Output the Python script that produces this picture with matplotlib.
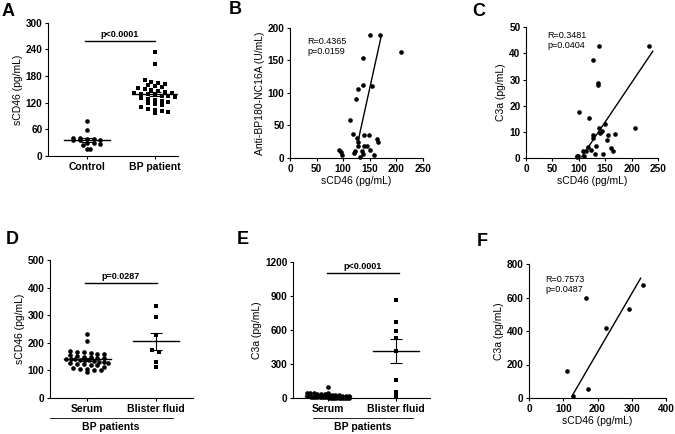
import numpy as np
import matplotlib
matplotlib.use("Agg")
import matplotlib.pyplot as plt

plt.rcParams['font.family'] = ['Liberation Sans', 'DejaVu Sans']
plt.rcParams['font.weight'] = 'bold'

# ---- data ----
ctrl_scd46 = [79, 59, 41, 40, 39, 38, 37, 36, 36, 30, 29, 27, 25, 16, 15]
bp_scd46 = [233, 208, 172, 166, 165, 163, 160, 158, 156, 152, 150, 148, 146, 144,
            142, 141, 140, 139, 138, 136, 134, 132, 130, 128, 126, 124, 122, 120,
            118, 114, 110, 106, 104, 102, 100, 96]
blister_scd46 = [333, 292, 227, 174, 168, 129, 113]

serum_c3a = [100, 45, 42, 40, 40, 38, 36, 35, 33, 30, 28, 25, 22, 20, 18, 15, 14,
             12, 12, 10, 10, 8, 8, 6, 5, 5, 4, 3, 3, 2, 2, 1, 1, 1, 0, 0]
blister_c3a = [865, 671, 594, 527, 418, 159, 56, 18]

b_x = [150, 170, 208, 137, 138, 128, 155, 124, 112, 118, 140, 148, 164, 165, 125,
       128, 127, 140, 144, 93, 95, 97, 122, 135, 150, 137, 132, 158, 120]
b_y = [189, 189, 162, 153, 112, 106, 110, 90, 59, 37, 36, 35, 29, 25, 30,
       24, 19, 18, 18, 12, 9, 5, 10, 11, 13, 6, 2, 4, 7]
b_fit = (3.7, -447.5)
b_fit_range = [128, 172]

c_x = [138, 233, 127.5, 135.7, 137, 101, 120, 206, 150, 138, 169, 155, 127.5, 144.5,
       153, 127.5, 117, 161, 164, 108.5, 124, 131, 146, 96, 99, 97.5, 110, 113, 132.5, 140]
c_y = [43, 42.7, 37.5, 28.6, 28, 17.5, 15.4, 11.3, 13.1, 11.3, 9.3, 8.8, 8.8, 10.4,
       6.8, 7.8, 4.3, 3.7, 2.7, 2.7, 3.2, 1.7, 1.5, 0.9, 0.9, 0.3, 0.9, 2.7, 4.5, 9.5]
c_fit = (0.30, -31.2)
c_fit_range = [105.5, 240]

f_x = [112, 166, 173, 129, 225, 292, 334]
f_y = [163, 597, 52, 14, 416, 530, 673]
f_fit = (3.51, -429)
f_fit_range = [127.5, 326]

W, H = 675, 434
fig = plt.figure(figsize=(W / 100, H / 100), dpi=100)


def px_axes(l, t, r, b):
    ax = fig.add_axes([l / W, 1 - b / H, (r - l) / W, (b - t) / H])
    for s in ('top', 'right'):
        ax.spines[s].set_visible(False)
    for s in ('left', 'bottom'):
        ax.spines[s].set_linewidth(0.8)
    ax.tick_params(length=2.5, width=0.8, labelsize=7.2, pad=1.5)
    return ax


def swarm(vals, center, ymax, marker, ax, row_frac=0.035, step=0.1, half=0.31):
    vals = np.sort(np.asarray(vals, float))[::-1]
    bins = np.round(vals / (ymax * row_frac)).astype(int)
    for b in np.unique(bins):
        v = vals[bins == b]
        k = len(v)
        st = step if k < 2 else min(step, 2 * half / (k - 1))
        xs = center + (np.arange(k) - (k - 1) / 2) * st
        ax.scatter(xs, v, s=11, marker=marker, color='black', lw=0, clip_on=False, zorder=3)
    m = vals.mean()
    se = vals.std(ddof=1) / np.sqrt(len(vals))
    ax.plot([center - 0.34, center + 0.34], [m, m], color='black', lw=1, zorder=4)
    ax.errorbar(center, m, yerr=se, color='black', lw=0.8, capsize=4, capthick=0.8, zorder=4)


def bracket(ax, x0, x1, y, text):
    ax.plot([x0, x1], [y, y], color='black', lw=1, clip_on=False)
    ax.text((x0 + x1) / 2, y * 1.02, text, ha='center', va='bottom', fontsize=6.5)


# ---- A ----
axA = px_axes(48, 22.7, 178, 156)
swarm(ctrl_scd46, 0, 300, 'o', axA)
swarm(bp_scd46, 1, 300, 's', axA)
axA.set_xlim(-0.57, 1.34)
axA.set_ylim(0, 300)
axA.set_yticks(range(0, 301, 60))
axA.set_xticks([0, 1])
axA.set_xticklabels(['Control', 'BP patient'], fontsize=7.5)
axA.set_ylabel('sCD46 (pg/mL)', fontsize=7.5, labelpad=2)
bracket(axA, -0.03, 1.0, 258, 'p<0.0001')

# ---- B ----
axB = px_axes(290, 27.7, 423, 158)
axB.scatter(b_x, b_y, s=11, color='black', lw=0, clip_on=False, zorder=3)
xx = np.array(b_fit_range)
axB.plot(xx, b_fit[0] * xx + b_fit[1], color='black', lw=1)
axB.set_xlim(0, 250)
axB.set_ylim(0, 200)
axB.set_xticks(range(0, 251, 50))
axB.set_yticks(range(0, 201, 50))
axB.set_xlabel('sCD46 (pg/mL)', fontsize=7.5, labelpad=2)
axB.set_ylabel('Anti-BP180-NC16A (U/mL)', fontsize=7.5, labelpad=2)
axB.text(0.13, 0.93, 'R=0.4365\np=0.0159', transform=axB.transAxes, fontsize=6.5,
         fontweight='normal', va='top', linespacing=1.15)

# ---- C ----
axC = px_axes(526, 27.3, 658, 158)
axC.scatter(c_x, c_y, s=11, color='black', lw=0, clip_on=False, zorder=3)
xx = np.array(c_fit_range)
axC.plot(xx, c_fit[0] * xx + c_fit[1], color='black', lw=1)
axC.set_xlim(0, 250)
axC.set_ylim(0, 50)
axC.set_xticks(range(0, 251, 50))
axC.set_yticks(range(0, 51, 10))
axC.set_xlabel('sCD46 (pg/mL)', fontsize=7.5, labelpad=2)
axC.set_ylabel('C3a (pg/mL)', fontsize=7.5, labelpad=2)
axC.text(0.16, 0.97, 'R=0.3481\np=0.0404', transform=axC.transAxes, fontsize=6.5,
         fontweight='normal', va='top', linespacing=1.15)

# ---- D ----
axD = px_axes(50, 260, 193, 398)
swarm(bp_scd46, 0, 500, 'o', axD, row_frac=0.03, step=0.1)
swarm(blister_scd46, 1, 500, 's', axD)
axD.set_xlim(-0.54, 1.54)
axD.set_ylim(0, 500)
axD.set_yticks(range(0, 501, 100))
axD.set_xticks([0, 1])
axD.set_xticklabels(['Serum', 'Blister fluid'], fontsize=7.5)
axD.set_ylabel('sCD46 (pg/mL)', fontsize=7.5, labelpad=2)
bracket(axD, -0.03, 1.01, 415, 'p=0.0287')

# ---- E ----
axE = px_axes(293, 262, 430, 398)
swarm(serum_c3a, 0, 1200, 'o', axE, row_frac=0.025, step=0.1, half=0.31)
swarm(blister_c3a, 1, 1200, 's', axE)
axE.set_xlim(-0.515, 1.5)
axE.set_ylim(0, 1200)
axE.set_yticks(range(0, 1201, 300))
axE.set_xticks([0, 1])
axE.set_xticklabels(['Serum', 'Blister fluid'], fontsize=7.5)
axE.set_ylabel('C3a (pg/mL)', fontsize=7.5, labelpad=2)
bracket(axE, -0.01, 1.04, 1100, 'p<0.0001')

# ---- F ----
axF = px_axes(529, 264, 666, 398)
axF.scatter(f_x, f_y, s=11, color='black', lw=0, clip_on=False, zorder=3)
xx = np.array(f_fit_range)
axF.plot(xx, f_fit[0] * xx + f_fit[1], color='black', lw=1)
axF.set_xlim(0, 400)
axF.set_ylim(0, 800)
axF.set_xticks(range(0, 401, 100))
axF.set_yticks(range(0, 801, 200))
axF.set_xlabel('sCD46 (pg/mL)', fontsize=7.5, labelpad=2)
axF.set_ylabel('C3a (pg/mL)', fontsize=7.5, labelpad=2)
axF.text(0.12, 0.92, 'R=0.7573\np=0.0487', transform=axF.transAxes, fontsize=6.5,
         fontweight='normal', va='top', linespacing=1.15)

# group labels under D and E
for l, r, cx in [(50, 173, 111), (313, 413, 363)]:
    fig.add_artist(plt.Line2D([l / W, r / W], [1 - 418 / H, 1 - 418 / H],
                              color='black', lw=0.6))
    fig.text(cx / W, 1 - 427 / H, 'BP patients', ha='center', va='center', fontsize=7.5)

# panel letters
for lab, x, y in [('A', 2, 11), ('B', 229, 9), ('C', 472, 11),
                  ('D', 6, 239), ('E', 237, 239), ('F', 477, 241)]:
    fig.text(x / W, 1 - y / H, lab, fontsize=13, fontweight='bold', va='center')

fig.savefig('out.png', dpi=100)
